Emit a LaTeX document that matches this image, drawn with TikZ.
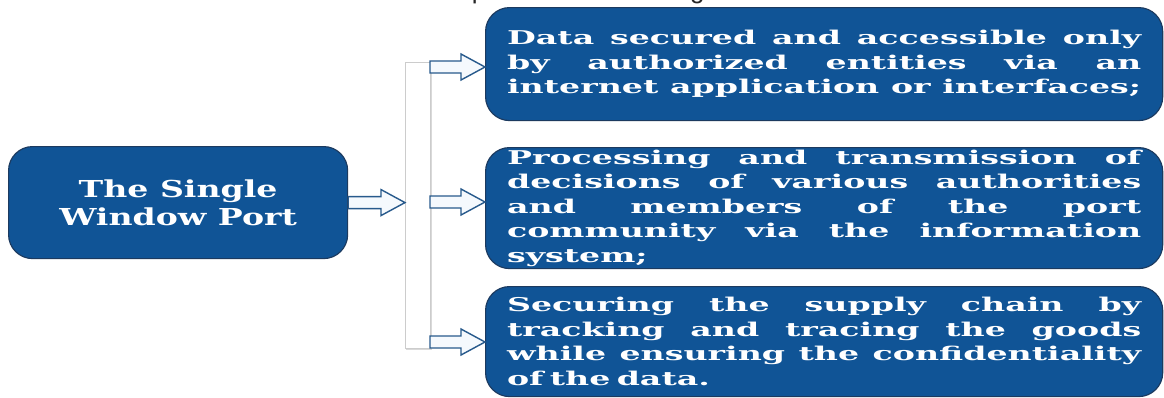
\documentclass[tikz,border=0pt]{standalone}
\usepackage{fontspec}
\usetikzlibrary{calc}
\newfontfamily\boxfont{DejaVu Serif}[FakeStretch=1.75]
\newfontfamily\portfont{DejaVu Serif}[FakeStretch=1.42]
\newfontfamily\headfont{Liberation Sans}
\definecolor{boxblue}{RGB}{16,84,150}
\definecolor{boxedge}{RGB}{28,58,95}
\definecolor{arrowedge}{RGB}{40,90,140}
\definecolor{arrowfill}{RGB}{245,249,253}
\newlength\desclen
\setlength\desclen{15.85cm}
\newcommand{\jline}[1]{{\spaceskip=0.3333em plus 1fil\makebox[\desclen][s]{#1}}}
\newcommand{\fatarrow}[2]{%
  \draw[blockarrow] let \p1=(#1), \p2=(#2) in
    (\x1,\y1+0.15cm) -- (\x2-0.6cm,\y1+0.15cm) -- (\x2-0.6cm,\y1+0.325cm)
    -- (\x2,\y1) -- (\x2-0.6cm,\y1-0.325cm) -- (\x2-0.6cm,\y1-0.15cm)
    -- (\x1,\y1-0.15cm) -- cycle;}
\tikzset{
  bluebox/.style={fill=boxblue, draw=boxedge, line width=0.8pt, rounded corners=0.6cm,
    text=white, inner ysep=0pt},
  descbox/.style={bluebox, anchor=north west, minimum width=16.925cm, text width=\desclen,
    inner xsep=0.525cm, align=left, font=\boxfont\bfseries\fontsize{13.5pt}{17.4pt}\selectfont},
  blockarrow/.style={fill=arrowfill, draw=arrowedge, line width=1pt, line join=miter}
}
\begin{document}
\begin{tikzpicture}[x=0.025cm, y=-0.025cm]
  \useasboundingbox (0,0) rectangle (1164,397);
  \clip (0,0) rectangle (1164,397);
  \fill[white] (0,0) rectangle (1164,397);

  \node[anchor=base west, font=\headfont\fontsize{18.5pt}{20pt}\selectfont, text=black!85,
    inner sep=0pt] (heading) at (392,-1.5) {The importance of the Single Window};

  \node[bluebox, anchor=north west, minimum width=8.475cm, minimum height=2.8cm, align=center,
    font=\portfont\bfseries\fontsize{16.6pt}{19.9pt}\selectfont] (port) at (8,146)
    {The Single\\Window Port};

  \node[descbox, minimum height=2.825cm] (d1) at (485,7)
    {\jline{Data secured and accessible only}\\
     \jline{by authorized entities via an}\\
     \jline{internet application or interfaces;}};
  \node[descbox, minimum height=3.025cm] (d2) at (485,147)
    {\jline{Processing and transmission of}\\
     \jline{decisions of various authorities}\\
     \jline{and members of the port}\\
     \jline{community via the information}\\
     system;};
  \node[descbox, minimum height=2.75cm] (d3) at (485,286)
    {\jline{Securing the supply chain by}\\
     \jline{tracking and tracing the goods}\\
     \jline{while ensuring the confidentiality}\\
     of the data.};

  \fill[gray!30] (406,63) rectangle (432,350);
  \node[draw=gray!40, fill=white, anchor=north west, inner sep=0pt, minimum width=0.625cm,
    minimum height=7.15cm] (bar) at (405,62) {};

  \coordinate (b0) at (port.east);
  \coordinate (b1) at (430,67);
  \coordinate (b2) at (430,202);
  \coordinate (b3) at (430,342);

  \fatarrow{b0}{bar.west}
  \fatarrow{b1}{d1.west}
  \fatarrow{b2}{d2.west}
  \fatarrow{b3}{d3.west}
\end{tikzpicture}
\end{document}
